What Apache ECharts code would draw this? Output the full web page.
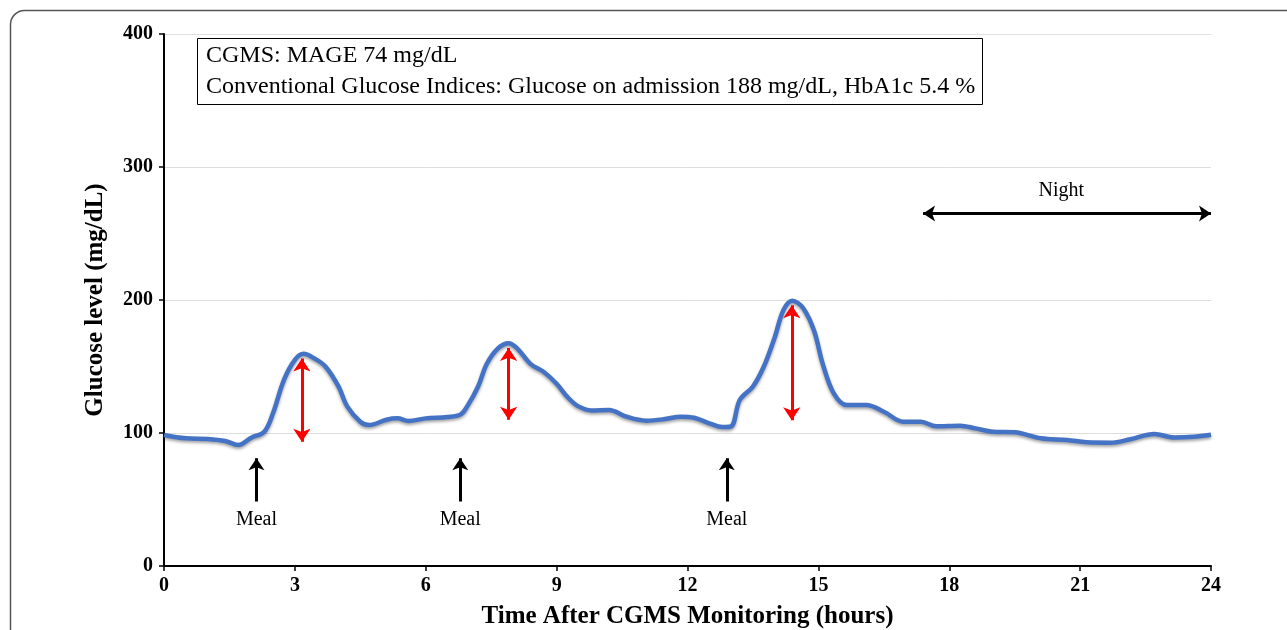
<!DOCTYPE html>
<html>
<head>
<meta charset="utf-8">
<title>CGMS glucose</title>
<script src="https://cdn.jsdelivr.net/npm/echarts@6/dist/echarts.min.js"></script>
<style>
  html, body { margin: 0; padding: 0; background: #fff; }
  #main { width: 1287px; height: 630px; }
</style>
</head>
<body>
<div id="main"></div>
<script>
// glucose trace
var hours = [0, 0.5, 1, 1.4, 1.7, 2, 2.3, 2.5, 2.75, 3, 3.2, 3.45, 3.7, 4, 4.2, 4.5, 4.7, 5.1, 5.35, 5.6,
  6, 6.5, 6.8, 6.95, 7.2, 7.4, 7.65, 7.9, 8.1, 8.4, 8.7, 9, 9.25, 9.5, 9.8, 10.2, 10.6, 11.05, 11.45, 11.85,
  12.15, 12.5, 12.8, 13, 13.2, 13.5, 13.75, 14, 14.2, 14.4, 14.65, 14.9, 15.1, 15.35, 15.65, 16.1, 16.5, 16.95, 17.35, 17.7,
  18.25, 18.6, 19, 19.5, 20.1, 20.7, 21.15, 21.7, 22.15, 22.7, 23.15, 23.6, 24];
var glucose = [98.5, 96, 95.5, 94, 91, 96.5, 101, 115, 140, 155, 159.5, 156, 150, 135, 120, 108.5, 106, 110, 111, 109,
  111, 112, 114, 120, 135, 152, 163.5, 167.5, 163.5, 152, 146, 137, 127, 120, 117, 117.3, 112.3, 109.3, 110.3, 112.3,
  111.5, 107.3, 104.5, 105, 125, 135, 150, 172, 192.5, 199.5, 194, 177, 152, 130, 121, 121, 116, 108.5, 108.5, 105,
  105.5, 103.5, 101, 100.5, 96, 94.7, 93, 92.7, 95.3, 99.2, 96.7, 97.2, 98.7];

// MAGE excursions (red double arrows): [hour, low, high]
var excursions = [[3.16, 93.5, 156], [7.9, 110, 164], [14.39, 109.5, 196]];
// meals (black arrows): hour
var mealHours = [2.12, 6.79, 12.9];
var mealArrowFrom = 48.5, mealArrowTo = 81, mealLabelY = 34.5;
// night span
var nightSpan = [17.4, 24], nightY = 265, nightLabel = [20.57, 282];

var serif = '"Liberation Serif", "Times New Roman", serif';

var myChart = echarts.init(document.getElementById('main'));

var redLines = excursions.map(function (e) {
  return { coords: [[e[0], e[1]], [e[0], e[2]]] };
});
var mealLines = mealHours.map(function (h) {
  return { coords: [[h, mealArrowFrom], [h, mealArrowTo]] };
});
var notes = mealHours.map(function (h) {
  return { value: [h, mealLabelY], name: 'Meal' };
});
notes.push({ value: nightLabel, name: 'Night' });

var option = {
  animation: false,
  title: {
    text: 'CGMS: MAGE 74 mg/dL\nConventional Glucose Indices: Glucose on admission 188 mg/dL, HbA1c 5.4 %',
    left: 197,
    top: 38,
    padding: [2, 8, 3, 9],
    borderColor: '#000',
    borderWidth: 1,
    textStyle: {
      fontFamily: serif,
      fontWeight: 'normal',
      fontSize: 24,
      lineHeight: 31,
      color: '#000'
    }
  },
  graphic: [{
    type: 'rect',
    silent: true,
    shape: { x: 10.5, y: 10.5, width: 1320, height: 700, r: 14 },
    style: { fill: 'none', stroke: '#555', lineWidth: 1.5 }
  }],
  grid: { left: 164, right: 76, top: 34, bottom: 64, outerBoundsMode: 'none' },
  xAxis: {
    type: 'value',
    min: 0,
    max: 24,
    interval: 3,
    name: 'Time After CGMS Monitoring (hours)',
    nameLocation: 'middle',
    nameGap: 38,
    nameTextStyle: { fontFamily: serif, fontWeight: 'bold', fontSize: 25, color: '#000' },
    axisLine: { lineStyle: { color: '#000', width: 2 } },
    axisTick: { length: 5, lineStyle: { color: '#000', width: 1.5 } },
    axisLabel: { fontFamily: serif, fontWeight: 'bold', fontSize: 20, color: '#000', margin: 10 },
    splitLine: { show: false }
  },
  yAxis: {
    type: 'value',
    min: 0,
    max: 400,
    interval: 100,
    name: 'Glucose level (mg/dL)',
    nameLocation: 'middle',
    nameGap: 56,
    nameTextStyle: { fontFamily: serif, fontWeight: 'bold', fontSize: 25, color: '#000' },
    axisLine: { show: true, lineStyle: { color: '#000', width: 2 } },
    axisTick: { show: true, length: 5, lineStyle: { color: '#000', width: 1.5 } },
    axisLabel: { fontFamily: serif, fontWeight: 'bold', fontSize: 20, color: '#000', margin: 11 },
    splitLine: { show: true, lineStyle: { color: '#dedede', width: 1 } }
  },
  series: [
    {
      type: 'line',
      name: 'Glucose',
      data: hours.map(function (h, i) { return [h, glucose[i]]; }),
      smooth: 0.35,
      symbol: 'none',
      z: 3,
      lineStyle: {
        color: '#4472C4',
        width: 4.5,
        shadowColor: 'rgba(0,0,0,0.35)',
        shadowBlur: 3,
        shadowOffsetY: 2
      }
    },
    {
      type: 'lines',
      coordinateSystem: 'cartesian2d',
      symbol: ['arrow', 'arrow'],
      symbolSize: 13,
      z: 4,
      lineStyle: { color: '#ff0000', width: 3, opacity: 1 },
      data: redLines
    },
    {
      type: 'lines',
      coordinateSystem: 'cartesian2d',
      symbol: ['none', 'arrow'],
      symbolSize: 12,
      z: 4,
      lineStyle: { color: '#000', width: 3, opacity: 1 },
      data: mealLines
    },
    {
      type: 'lines',
      coordinateSystem: 'cartesian2d',
      symbol: ['arrow', 'arrow'],
      symbolSize: 12,
      z: 4,
      lineStyle: { color: '#000', width: 3, opacity: 1 },
      data: [{ coords: [[nightSpan[0], nightY], [nightSpan[1], nightY]] }]
    },
    {
      type: 'scatter',
      symbolSize: 0,
      silent: true,
      z: 5,
      label: {
        show: true,
        position: 'inside',
        formatter: '{b}',
        fontFamily: serif,
        fontSize: 20,
        color: '#000',
        textBorderWidth: 0,
        opacity: 1
      },
      data: notes
    }
  ]
};
myChart.setOption(option);
</script>
</body>
</html>
